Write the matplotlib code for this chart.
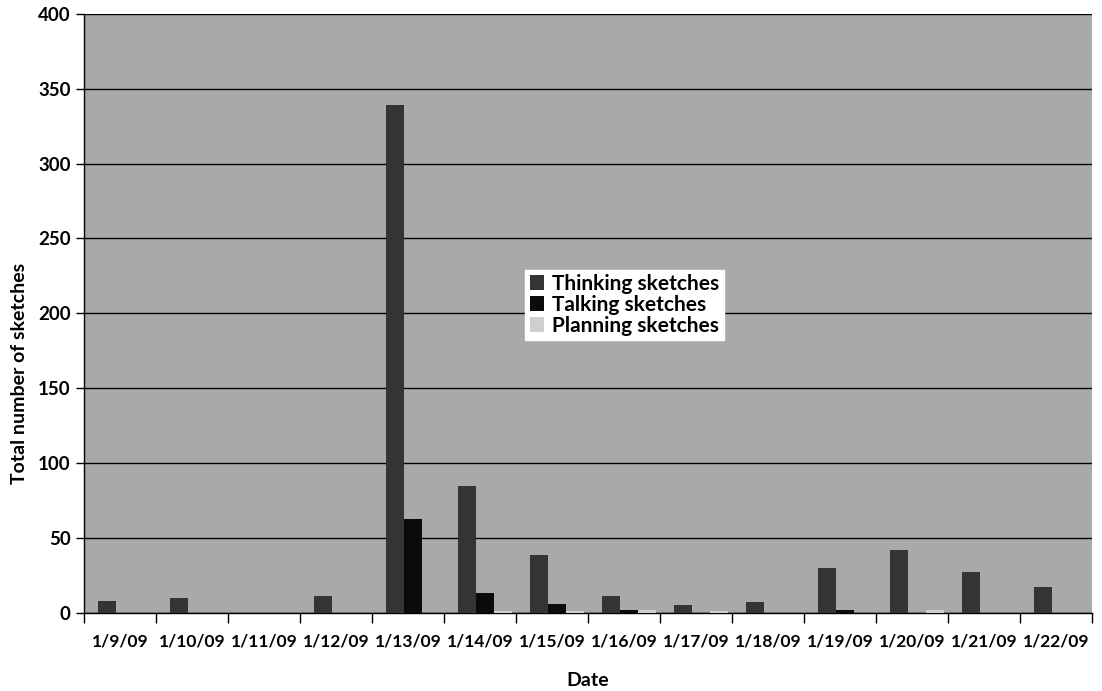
import numpy as np
import matplotlib

matplotlib.use("Agg")
import matplotlib.pyplot as plt

plt.rcParams["font.family"] = ["Lato", "DejaVu Sans"]

dates = ["1/9/09", "1/10/09", "1/11/09", "1/12/09", "1/13/09", "1/14/09", "1/15/09",
         "1/16/09", "1/17/09", "1/18/09", "1/19/09", "1/20/09", "1/21/09", "1/22/09"]
thinking = [8, 10, 0, 11, 339, 85, 39, 11, 5, 7, 30, 42, 27, 17]
talking = [0, 0, 0, 0, 63, 13, 6, 2, 0, 0, 2, 0, 0, 0]
planning = [0, 0, 0, 0, 0, 1, 1, 2, 1, 0, 0, 2, 0, 0]

x = np.arange(len(dates))
width = 0.25

fig = plt.figure(figsize=(11.02, 6.91), dpi=100)
ax = fig.add_axes([0.076, 0.113, 0.915, 0.867])
ax.set_facecolor("#a9a9a9")

ax.bar(x - 0.18, thinking, width, color="#343434", label="Thinking sketches", zorder=3)
ax.bar(x + 0.07, talking, width, color="#0b0b0b", label="Talking sketches", zorder=3)
ax.bar(x + 0.32, planning, width, color="#cfcfcf", label="Planning sketches", zorder=3)

ax.set_xlim(-0.5, len(dates) - 0.5)
ax.set_ylim(0, 400)
ax.set_yticks(range(0, 401, 50))
ax.yaxis.grid(True, color="black", linewidth=1.0, zorder=1)

# category labels sit between the tick marks at group boundaries
ax.set_xticks(x)
ax.set_xticklabels(dates, fontsize=12.5, fontweight="bold")
ax.set_xticks(np.arange(len(dates) + 1) - 0.5, minor=True)
ax.tick_params(axis="x", which="major", length=0, pad=15)
ax.tick_params(axis="x", which="minor", length=7, width=1, direction="out")
ax.tick_params(axis="y", length=6, width=1, labelsize=13.5)
for lbl in ax.get_yticklabels():
    lbl.set_fontweight("bold")

for side in ["top", "right"]:
    ax.spines[side].set_visible(False)
ax.spines["left"].set_linewidth(1.0)
ax.spines["bottom"].set_linewidth(1.0)

ax.set_xlabel("Date", fontsize=14, fontweight="bold", labelpad=16)
ax.set_ylabel("Total number of sketches", fontsize=14, fontweight="bold")
ax.yaxis.set_label_coords(-0.055, 0.40)

leg = ax.legend(loc="upper left", bbox_to_anchor=(0.438, 0.573), frameon=True,
                fancybox=False, edgecolor="white", facecolor="white", framealpha=1,
                fontsize=15, handlelength=0.7, handleheight=0.7, handletextpad=0.4,
                labelspacing=0.05, borderpad=0.2, borderaxespad=0)
for t in leg.get_texts():
    t.set_fontweight("bold")

plt.savefig("out.png", dpi=100)
